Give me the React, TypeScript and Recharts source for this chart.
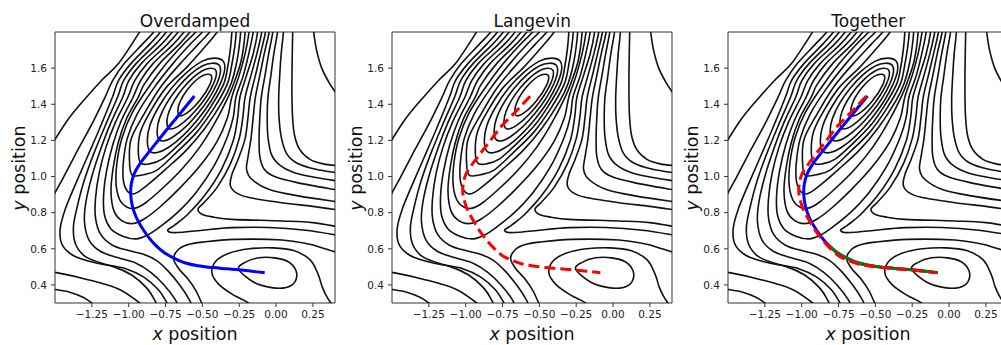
import { LineChart, Line, XAxis, YAxis, ReferenceArea } from 'recharts';

type Pt = [number, number];

const xTicks = [-1.25, -1, -0.75, -0.5, -0.25, 0, 0.25];
const yTicks = [0.4, 0.6, 0.8, 1.0, 1.2, 1.4, 1.6];
const panelTitles = ['Overdamped', 'Langevin', 'Together'];

// closed contours around the upper minimum and the lower minimum
const ringT1: Pt[] = [[-0.4405, 1.5605], [-0.5017, 1.5573], [-0.5915, 1.4915], [-0.6573, 1.4017], [-0.6605, 1.3405], [-0.6063, 1.3507], [-0.5194, 1.4194], [-0.4507, 1.5063]];
const ringT2: Pt[] = [[-0.411, 1.591], [-0.4998, 1.5858], [-0.6306, 1.4896], [-0.7268, 1.3588], [-0.732, 1.27], [-0.6525, 1.2845], [-0.5255, 1.3845], [-0.4255, 1.5115]];
const ringT3: Pt[] = [[-0.3852, 1.6153], [-0.5013, 1.6115], [-0.6694, 1.4899], [-0.791, 1.3218], [-0.7948, 1.2057], [-0.6919, 1.2228], [-0.5293, 1.3498], [-0.4023, 1.5124]];
const ringT4: Pt[] = [[-0.3596, 1.6394], [-0.5031, 1.6372], [-0.7084, 1.4904], [-0.8552, 1.2851], [-0.8574, 1.1416], [-0.7309, 1.1608], [-0.5326, 1.3146], [-0.3788, 1.5129]];
const ringB1: Pt[] = [[-0.254, 0.487], [-0.21, 0.525], [-0.12, 0.55], [-0.01, 0.55], [0.08, 0.53], [0.135, 0.48], [0.13, 0.42], [0.07, 0.386], [-0.03, 0.385], [-0.15, 0.415]];

// open contours (they leave the frame)
const valleyT5: Pt[] = [[-0.365, 1.86], [-0.4, 1.8], [-0.48, 1.72], [-0.6, 1.61], [-0.7477, 1.4907], [-0.86, 1.35], [-0.9197, 1.2477], [-0.935, 1.15], [-0.9199, 1.0761], [-0.86, 1.07], [-0.7701, 1.098], [-0.65, 1.185], [-0.5361, 1.2791], [-0.44, 1.39], [-0.355, 1.5131], [-0.325, 1.62], [-0.308, 1.72], [-0.3, 1.8], [-0.298, 1.86]];
const valleyT6: Pt[] = [[-0.4, 1.86], [-0.45, 1.8], [-0.53, 1.73], [-0.65, 1.625], [-0.7864, 1.4919], [-0.9, 1.34], [-0.9823, 1.2108], [-0.995, 1.1], [-0.9783, 1.0092], [-0.9, 1.01], [-0.8074, 1.0359], [-0.68, 1.13], [-0.539, 1.2445], [-0.42, 1.38], [-0.3304, 1.5129], [-0.3, 1.62], [-0.28, 1.72], [-0.27, 1.8], [-0.268, 1.86]];
const valleyT7: Pt[] = [[-0.45, 1.86], [-0.5, 1.8], [-0.58, 1.735], [-0.7, 1.625], [-0.825, 1.495], [-0.94, 1.35], [-1.01, 1.21], [-1.037, 1.07], [-1.035, 0.97], [-1.01, 0.92], [-0.975, 0.903], [-0.935, 0.915], [-0.87, 0.955], [-0.75, 1.04], [-0.61, 1.145], [-0.48, 1.27], [-0.36, 1.42], [-0.305, 1.515], [-0.27, 1.62], [-0.25, 1.72], [-0.24, 1.8], [-0.238, 1.86]];
const valleyT8: Pt[] = [[-0.49, 1.86], [-0.545, 1.8], [-0.625, 1.735], [-0.745, 1.625], [-0.86, 1.5], [-0.975, 1.355], [-1.045, 1.215], [-1.08, 1.075], [-1.085, 0.955], [-1.06, 0.87], [-1.01, 0.83], [-0.955, 0.825], [-0.885, 0.855], [-0.77, 0.935], [-0.64, 1.04], [-0.52, 1.16], [-0.42, 1.29], [-0.325, 1.44], [-0.28, 1.53], [-0.24, 1.63], [-0.22, 1.72], [-0.21, 1.8], [-0.208, 1.86]];
const valleyT9: Pt[] = [[-0.53, 1.87], [-0.585, 1.8], [-0.66, 1.73], [-0.79, 1.625], [-0.895, 1.51], [-0.935, 1.44], [-1.015, 1.32], [-1.07, 1.19], [-1.105, 1.05], [-1.12, 0.92], [-1.1, 0.81], [-1.045, 0.755], [-0.97, 0.74], [-0.895, 0.765], [-0.79, 0.83], [-0.66, 0.93], [-0.52, 1.055], [-0.4, 1.195], [-0.33, 1.325], [-0.3, 1.44], [-0.25, 1.56], [-0.21, 1.68], [-0.183, 1.8], [-0.178, 1.87]];
const valleyT10: Pt[] = [[-0.57, 1.87], [-0.625, 1.8], [-0.7, 1.73], [-0.835, 1.625], [-0.92, 1.53], [-0.97, 1.44], [-1.05, 1.31], [-1.11, 1.17], [-1.15, 1.03], [-1.17, 0.9], [-1.165, 0.79], [-1.12, 0.71], [-1.04, 0.67], [-0.95, 0.655], [-0.875, 0.675], [-0.79, 0.72], [-0.67, 0.8], [-0.54, 0.915], [-0.42, 1.06], [-0.33, 1.22], [-0.29, 1.33], [-0.272, 1.44], [-0.222, 1.56], [-0.185, 1.68], [-0.155, 1.8], [-0.15, 1.87]];
const wrapD1: Pt[] = [[-0.61, 1.87], [-0.665, 1.8], [-0.74, 1.73], [-0.875, 1.625], [-0.96, 1.53], [-1.005, 1.44], [-1.09, 1.3], [-1.155, 1.16], [-1.2, 1.02], [-1.225, 0.88], [-1.225, 0.77], [-1.19, 0.68], [-1.11, 0.62], [-1.0, 0.59], [-0.9, 0.57], [-0.81, 0.535], [-0.73, 0.475], [-0.65, 0.395], [-0.59, 0.32], [-0.565, 0.27]];
const wrapD2: Pt[] = [[-0.65, 1.87], [-0.705, 1.8], [-0.78, 1.73], [-0.915, 1.625], [-1.0, 1.53], [-1.04, 1.44], [-1.125, 1.29], [-1.195, 1.14], [-1.25, 1.0], [-1.29, 0.86], [-1.3, 0.75], [-1.27, 0.65], [-1.19, 0.585], [-1.07, 0.55], [-0.95, 0.52], [-0.85, 0.47], [-0.76, 0.4], [-0.685, 0.32], [-0.655, 0.26]];
const wrapD3: Pt[] = [[-0.69, 1.87], [-0.745, 1.8], [-0.82, 1.73], [-0.95, 1.625], [-1.035, 1.53], [-1.075, 1.44], [-1.16, 1.28], [-1.24, 1.12], [-1.305, 0.97], [-1.35, 0.83], [-1.375, 0.72], [-1.36, 0.625], [-1.29, 0.555], [-1.16, 0.515], [-1.02, 0.49], [-0.9, 0.445], [-0.8, 0.375], [-0.74, 0.3], [-0.72, 0.26]];
const wrapD4: Pt[] = [[-0.73, 1.87], [-0.785, 1.8], [-0.86, 1.73], [-0.985, 1.625], [-1.07, 1.53], [-1.11, 1.44], [-1.195, 1.27], [-1.285, 1.1], [-1.365, 0.95], [-1.43, 0.82], [-1.465, 0.71], [-1.45, 0.62], [-1.37, 0.56], [-1.24, 0.525], [-1.1, 0.5], [-0.98, 0.455], [-0.88, 0.385], [-0.82, 0.31], [-0.8, 0.26]];
const arcL1: Pt[] = [[-0.89, 1.85], [-0.93, 1.795], [-1.065, 1.63], [-1.178, 1.537], [-1.291, 1.435], [-1.403, 1.325], [-1.5, 1.205], [-1.54, 1.15]];
const arcL2: Pt[] = [[-0.78, 1.87], [-0.83, 1.8], [-0.91, 1.73], [-1.03, 1.625], [-1.11, 1.53], [-1.16, 1.44], [-1.25, 1.29], [-1.35, 1.14], [-1.44, 1.0], [-1.5, 0.91], [-1.54, 0.85]];
const cornerBL1: Pt[] = [[-1.54, 0.378], [-1.5, 0.375], [-1.4, 0.36], [-1.31, 0.332], [-1.25, 0.3], [-1.22, 0.28]];
const cornerBL2: Pt[] = [[-1.54, 0.47], [-1.49, 0.468], [-1.29, 0.432], [-1.07, 0.378], [-0.93, 0.303], [-0.9, 0.28]];
const flankR1: Pt[] = [[-0.12, 1.87], [-0.125, 1.8], [-0.155, 1.68], [-0.2, 1.56], [-0.245, 1.44], [-0.26, 1.33], [-0.29, 1.2], [-0.37, 1.04], [-0.48, 0.9], [-0.6, 0.79], [-0.69, 0.73], [-0.735, 0.705], [-0.71, 0.69], [-0.63, 0.692], [-0.5, 0.703], [-0.3, 0.717], [-0.05, 0.718], [0.2, 0.703], [0.42, 0.675]];
const flankR2: Pt[] = [[-0.092, 1.87], [-0.097, 1.8], [-0.13, 1.68], [-0.17, 1.56], [-0.21, 1.44], [-0.225, 1.33], [-0.25, 1.21], [-0.31, 1.07], [-0.4, 0.94], [-0.49, 0.855], [-0.53, 0.82], [-0.5, 0.79], [-0.42, 0.775], [-0.3, 0.763], [0.04, 0.754], [0.25, 0.745], [0.42, 0.722]];
const flankR3: Pt[] = [[-0.068, 1.87], [-0.072, 1.8], [-0.105, 1.68], [-0.14, 1.56], [-0.175, 1.44], [-0.19, 1.33], [-0.21, 1.21], [-0.255, 1.1], [-0.3, 1.01], [-0.31, 0.95], [-0.27, 0.91], [-0.19, 0.885], [0.04, 0.855], [0.25, 0.835], [0.42, 0.815]];
const flankR4: Pt[] = [[-0.043, 1.87], [-0.047, 1.8], [-0.08, 1.68], [-0.11, 1.56], [-0.14, 1.44], [-0.155, 1.33], [-0.17, 1.21], [-0.19, 1.11], [-0.2, 1.04], [-0.165, 0.985], [-0.05, 0.93], [0.15, 0.893], [0.42, 0.86]];
const flankR5: Pt[] = [[-0.018, 1.87], [-0.022, 1.8], [-0.05, 1.68], [-0.075, 1.56], [-0.1, 1.44], [-0.11, 1.33], [-0.115, 1.21], [-0.11, 1.11], [-0.08, 1.04], [-0.01, 1.0], [0.15, 0.965], [0.42, 0.925]];
const flankR6: Pt[] = [[0.013, 1.87], [0.01, 1.8], [-0.015, 1.68], [-0.035, 1.56], [-0.055, 1.44], [-0.06, 1.33], [-0.055, 1.22], [-0.03, 1.12], [0.03, 1.06], [0.13, 1.02], [0.27, 0.995], [0.42, 0.975]];
const flankR7: Pt[] = [[0.053, 1.87], [0.05, 1.8], [0.035, 1.68], [0.025, 1.56], [0.018, 1.44], [0.02, 1.33], [0.035, 1.22], [0.07, 1.13], [0.14, 1.075], [0.27, 1.04], [0.42, 1.02]];
const flankR8: Pt[] = [[0.115, 1.87], [0.113, 1.8], [0.11, 1.68], [0.108, 1.56], [0.108, 1.44], [0.112, 1.33], [0.125, 1.23], [0.16, 1.15], [0.23, 1.095], [0.32, 1.07], [0.42, 1.06]];
const basinB2: Pt[] = [[-0.2, 0.27], [-0.187, 0.3], [-0.29, 0.345], [-0.385, 0.4], [-0.435, 0.465], [-0.41, 0.53], [-0.32, 0.575], [-0.18, 0.6], [-0.02, 0.605], [0.12, 0.59], [0.23, 0.54], [0.285, 0.46], [0.315, 0.385], [0.355, 0.32], [0.4, 0.275]];
const basinB3: Pt[] = [[-0.49, 0.27], [-0.505, 0.3], [-0.545, 0.37], [-0.6, 0.435], [-0.66, 0.49], [-0.695, 0.545], [-0.665, 0.595], [-0.6, 0.623], [-0.5, 0.637], [-0.28, 0.652], [0.04, 0.649], [0.22, 0.627], [0.31, 0.606], [0.42, 0.578]];
const cornerK: Pt[] = [[0.245, 1.85], [0.255, 1.8], [0.275, 1.7], [0.31, 1.6], [0.36, 1.52], [0.4, 1.47], [0.43, 1.44]];

// trajectories
const overdampedPath: Pt[] = [[-0.554, 1.446], [-0.64, 1.36], [-0.723, 1.278], [-0.81, 1.19], [-0.88, 1.118], [-0.93, 1.063], [-0.963, 1.015], [-0.982, 0.96], [-0.986, 0.9], [-0.976, 0.84], [-0.952, 0.78], [-0.916, 0.725], [-0.872, 0.672], [-0.82, 0.622], [-0.76, 0.58], [-0.69, 0.547], [-0.62, 0.523], [-0.53, 0.506], [-0.43, 0.496], [-0.33, 0.489], [-0.22, 0.481], [-0.077, 0.467]];
const langevinPath: Pt[] = [[-0.563, 1.445], [-0.65, 1.368], [-0.75, 1.285], [-0.84, 1.192], [-0.91, 1.117], [-0.964, 1.058], [-1.0, 1.01], [-1.016, 0.96], [-1.02, 0.915], [-1.01, 0.87], [-0.99, 0.82], [-0.953, 0.763], [-0.91, 0.705], [-0.863, 0.653], [-0.81, 0.605], [-0.75, 0.562], [-0.68, 0.534], [-0.615, 0.516], [-0.54, 0.505], [-0.457, 0.496], [-0.37, 0.49], [-0.277, 0.483], [-0.18, 0.476], [-0.086, 0.468]];
const greenPath: Pt[] = overdampedPath.slice(13);

const closedRings = [ringT1, ringT2, ringT3, ringT4, ringB1];
const openLevels = [valleyT5, valleyT6, valleyT7, valleyT8, valleyT9, valleyT10, wrapD1, wrapD2, wrapD3, wrapD4,
  arcL1, arcL2, cornerBL1, cornerBL2, flankR1, flankR2, flankR3, flankR4, flankR5, flankR6, flankR7, flankR8,
  basinB2, basinB3, cornerK];

const rows = (pts: Pt[]) => pts.map(([x, y]) => ({ x, y }));

// smooth curve through the points (catmull-rom as cubic beziers)
function smooth(closed: boolean) {
  return (ctx: any) => {
    let pts: number[][] = [];
    return {
      areaStart() {},
      areaEnd() {},
      lineStart() { pts = []; },
      point(x: number, y: number) { pts.push([+x, +y]); },
      lineEnd() {
        const n = pts.length;
        if (!n) return;
        const at = (i: number) => (closed ? pts[(i + n) % n] : pts[Math.max(0, Math.min(n - 1, i))]);
        ctx.moveTo(pts[0][0], pts[0][1]);
        const segs = closed ? n : n - 1;
        for (let i = 0; i < segs; i++) {
          const p0 = at(i - 1), p1 = at(i), p2 = at(i + 1), p3 = at(i + 2);
          ctx.bezierCurveTo(
            p1[0] + (p2[0] - p0[0]) / 6, p1[1] + (p2[1] - p0[1]) / 6,
            p2[0] - (p3[0] - p1[0]) / 6, p2[1] - (p3[1] - p1[1]) / 6,
            p2[0], p2[1]
          );
        }
        if (closed) ctx.closePath();
      },
    };
  };
}
const closedCurve = smooth(true);
const openCurve = smooth(false);

const fmtX = (v: number) => (v < 0 ? '\u2212' : '') + Math.abs(v).toFixed(2);
const fmtY = (v: number) => v.toFixed(1);

const font = 'DejaVu Sans';

const XLabel = () => (
  <text x={195} y={340} textAnchor="middle" fontFamily={font} fontSize={17.5} fill="#111">
    <tspan fontStyle="italic">x</tspan> position
  </text>
);
const YLabel = () => (
  <text x={25} y={168} transform="rotate(-90 25 168)" textAnchor="middle" fontFamily={font} fontSize={17.5} fill="#111">
    <tspan fontStyle="italic">y</tspan> position
  </text>
);

function Panel({ left, title, show }: { left: number; title: string; show: string[] }) {
  return (
    <div style={{ position: 'absolute', left, top: 0, width: 337, height: 345 }}>
      <div style={{ position: 'absolute', left: 55, width: 280, top: 10.5, textAlign: 'center', fontFamily: font, fontSize: 17, lineHeight: '20px', color: '#111' }}>
        {title}
      </div>
      <LineChart width={337} height={345} margin={{ top: 32, right: 2, bottom: 0, left: 0 }}>
        <XAxis type="number" dataKey="x" domain={[-1.5, 0.4]} allowDataOverflow ticks={xTicks} tickFormatter={fmtX}
          height={42} axisLine={false} tickLine={{ stroke: '#333' }} tickSize={4} tickMargin={4}
          tick={{ fontSize: 10.5, fill: '#222', fontFamily: font }} label={{ content: XLabel }} />
        <YAxis type="number" dataKey="y" domain={[0.3, 1.8]} allowDataOverflow ticks={yTicks} tickFormatter={fmtY}
          width={55} axisLine={false} tickLine={{ stroke: '#333' }} tickSize={4} tickMargin={4}
          tick={{ fontSize: 10.5, fill: '#222', fontFamily: font }} label={{ content: YLabel }} />
        {closedRings.map((c, i) => (
          <Line key={`ring-${i}`} data={rows(c)} dataKey="y" type={closedCurve as any} stroke="#111" strokeWidth={1.6}
            dot={false} activeDot={false} isAnimationActive={false} legendType="none" />
        ))}
        {openLevels.map((c, i) => (
          <Line key={`lvl-${i}`} data={rows(c)} dataKey="y" type={openCurve as any} stroke="#111" strokeWidth={1.6}
            dot={false} activeDot={false} isAnimationActive={false} legendType="none" />
        ))}
        {show.includes('blue') && (
          <Line key="blue" data={rows(overdampedPath)} dataKey="y" type={openCurve as any} stroke="#0000ff" strokeWidth={3}
            dot={false} activeDot={false} isAnimationActive={false} legendType="none" />
        )}
        {show.includes('green') && (
          <Line key="green" data={rows(greenPath)} dataKey="y" type={openCurve as any} stroke="#008000" strokeWidth={3}
            dot={false} activeDot={false} isAnimationActive={false} legendType="none" />
        )}
        {show.includes('red') && (
          <Line key="red" data={rows(langevinPath)} dataKey="y" type={openCurve as any} stroke="#ff0000" strokeWidth={3}
            strokeDasharray="11 5" dot={false} activeDot={false} isAnimationActive={false} legendType="none" />
        )}
        <ReferenceArea x1={-1.5} x2={0.4} y1={0.3} y2={1.8} fill="none" stroke="#333" strokeWidth={1} ifOverflow="visible" />
      </LineChart>
    </div>
  );
}

export default function App() {
  return (
    <div style={{ position: 'absolute', left: 0, top: 0, width: 1001, height: 345, overflow: 'hidden', background: '#fff' }}>
      <Panel left={0} title={panelTitles[0]} show={['blue']} />
      <Panel left={337.3} title={panelTitles[1]} show={['red']} />
      <Panel left={673.3} title={panelTitles[2]} show={['blue', 'green', 'red']} />
    </div>
  );
}
